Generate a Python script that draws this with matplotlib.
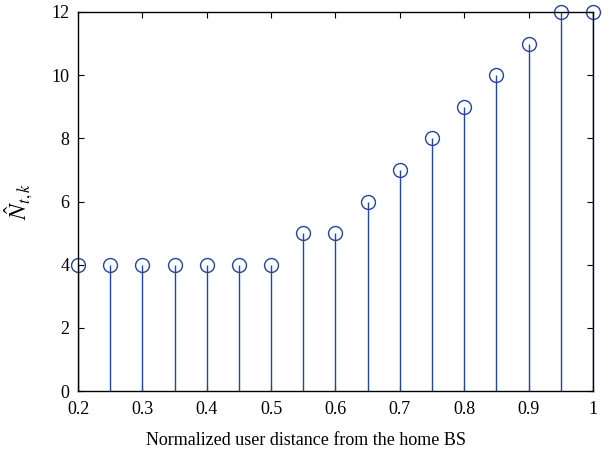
import matplotlib
matplotlib.use('Agg')
import matplotlib.pyplot as plt
import numpy as np

plt.rcParams['font.family'] = ['Liberation Serif', 'DejaVu Serif']
plt.rcParams['mathtext.fontset'] = 'stix'

# user distance vs estimated number of transmit antennas
distance = [0.2, 0.25, 0.3, 0.35, 0.4, 0.45, 0.5, 0.55, 0.6,
            0.65, 0.7, 0.75, 0.8, 0.85, 0.9, 0.95, 1.0]
n_hat = [4, 4, 4, 4, 4, 4, 4, 5, 5, 6, 7, 8, 9, 10, 11, 12, 12]

fig = plt.figure(figsize=(6.1, 4.58), dpi=100)
ax = fig.add_axes([0.128, 0.146, 0.844, 0.828])

color = '#2344a8'
markers, stems, base = ax.stem(distance, n_hat, basefmt=' ')
plt.setp(stems, color=color, linewidth=1.0)
plt.setp(markers, markerfacecolor='none', markeredgecolor=color,
         markersize=10, markeredgewidth=1.0, clip_on=False)

ax.set_xlim(0.2, 1.0)
ax.set_ylim(0, 12)
ax.set_xticks(np.arange(0.2, 1.01, 0.1))
ax.set_xticklabels(['0.2', '0.3', '0.4', '0.5', '0.6', '0.7', '0.8', '0.9', '1'])
ax.set_yticks(np.arange(0, 13, 2))
ax.tick_params(direction='in', top=True, right=True, labelsize=13, length=4)
ax.tick_params(axis='x', pad=7)
ax.tick_params(axis='y', pad=6)
for s in ax.spines.values():
    s.set_linewidth(1.0)

ax.set_xlabel('Normalized user distance from the home BS', fontsize=13)
ax.xaxis.set_label_coords(0.443, -0.108)
ax.set_ylabel(r'$\hat{N}_{t,k}$', fontsize=17, labelpad=12)

fig.savefig('out.png', dpi=100)
